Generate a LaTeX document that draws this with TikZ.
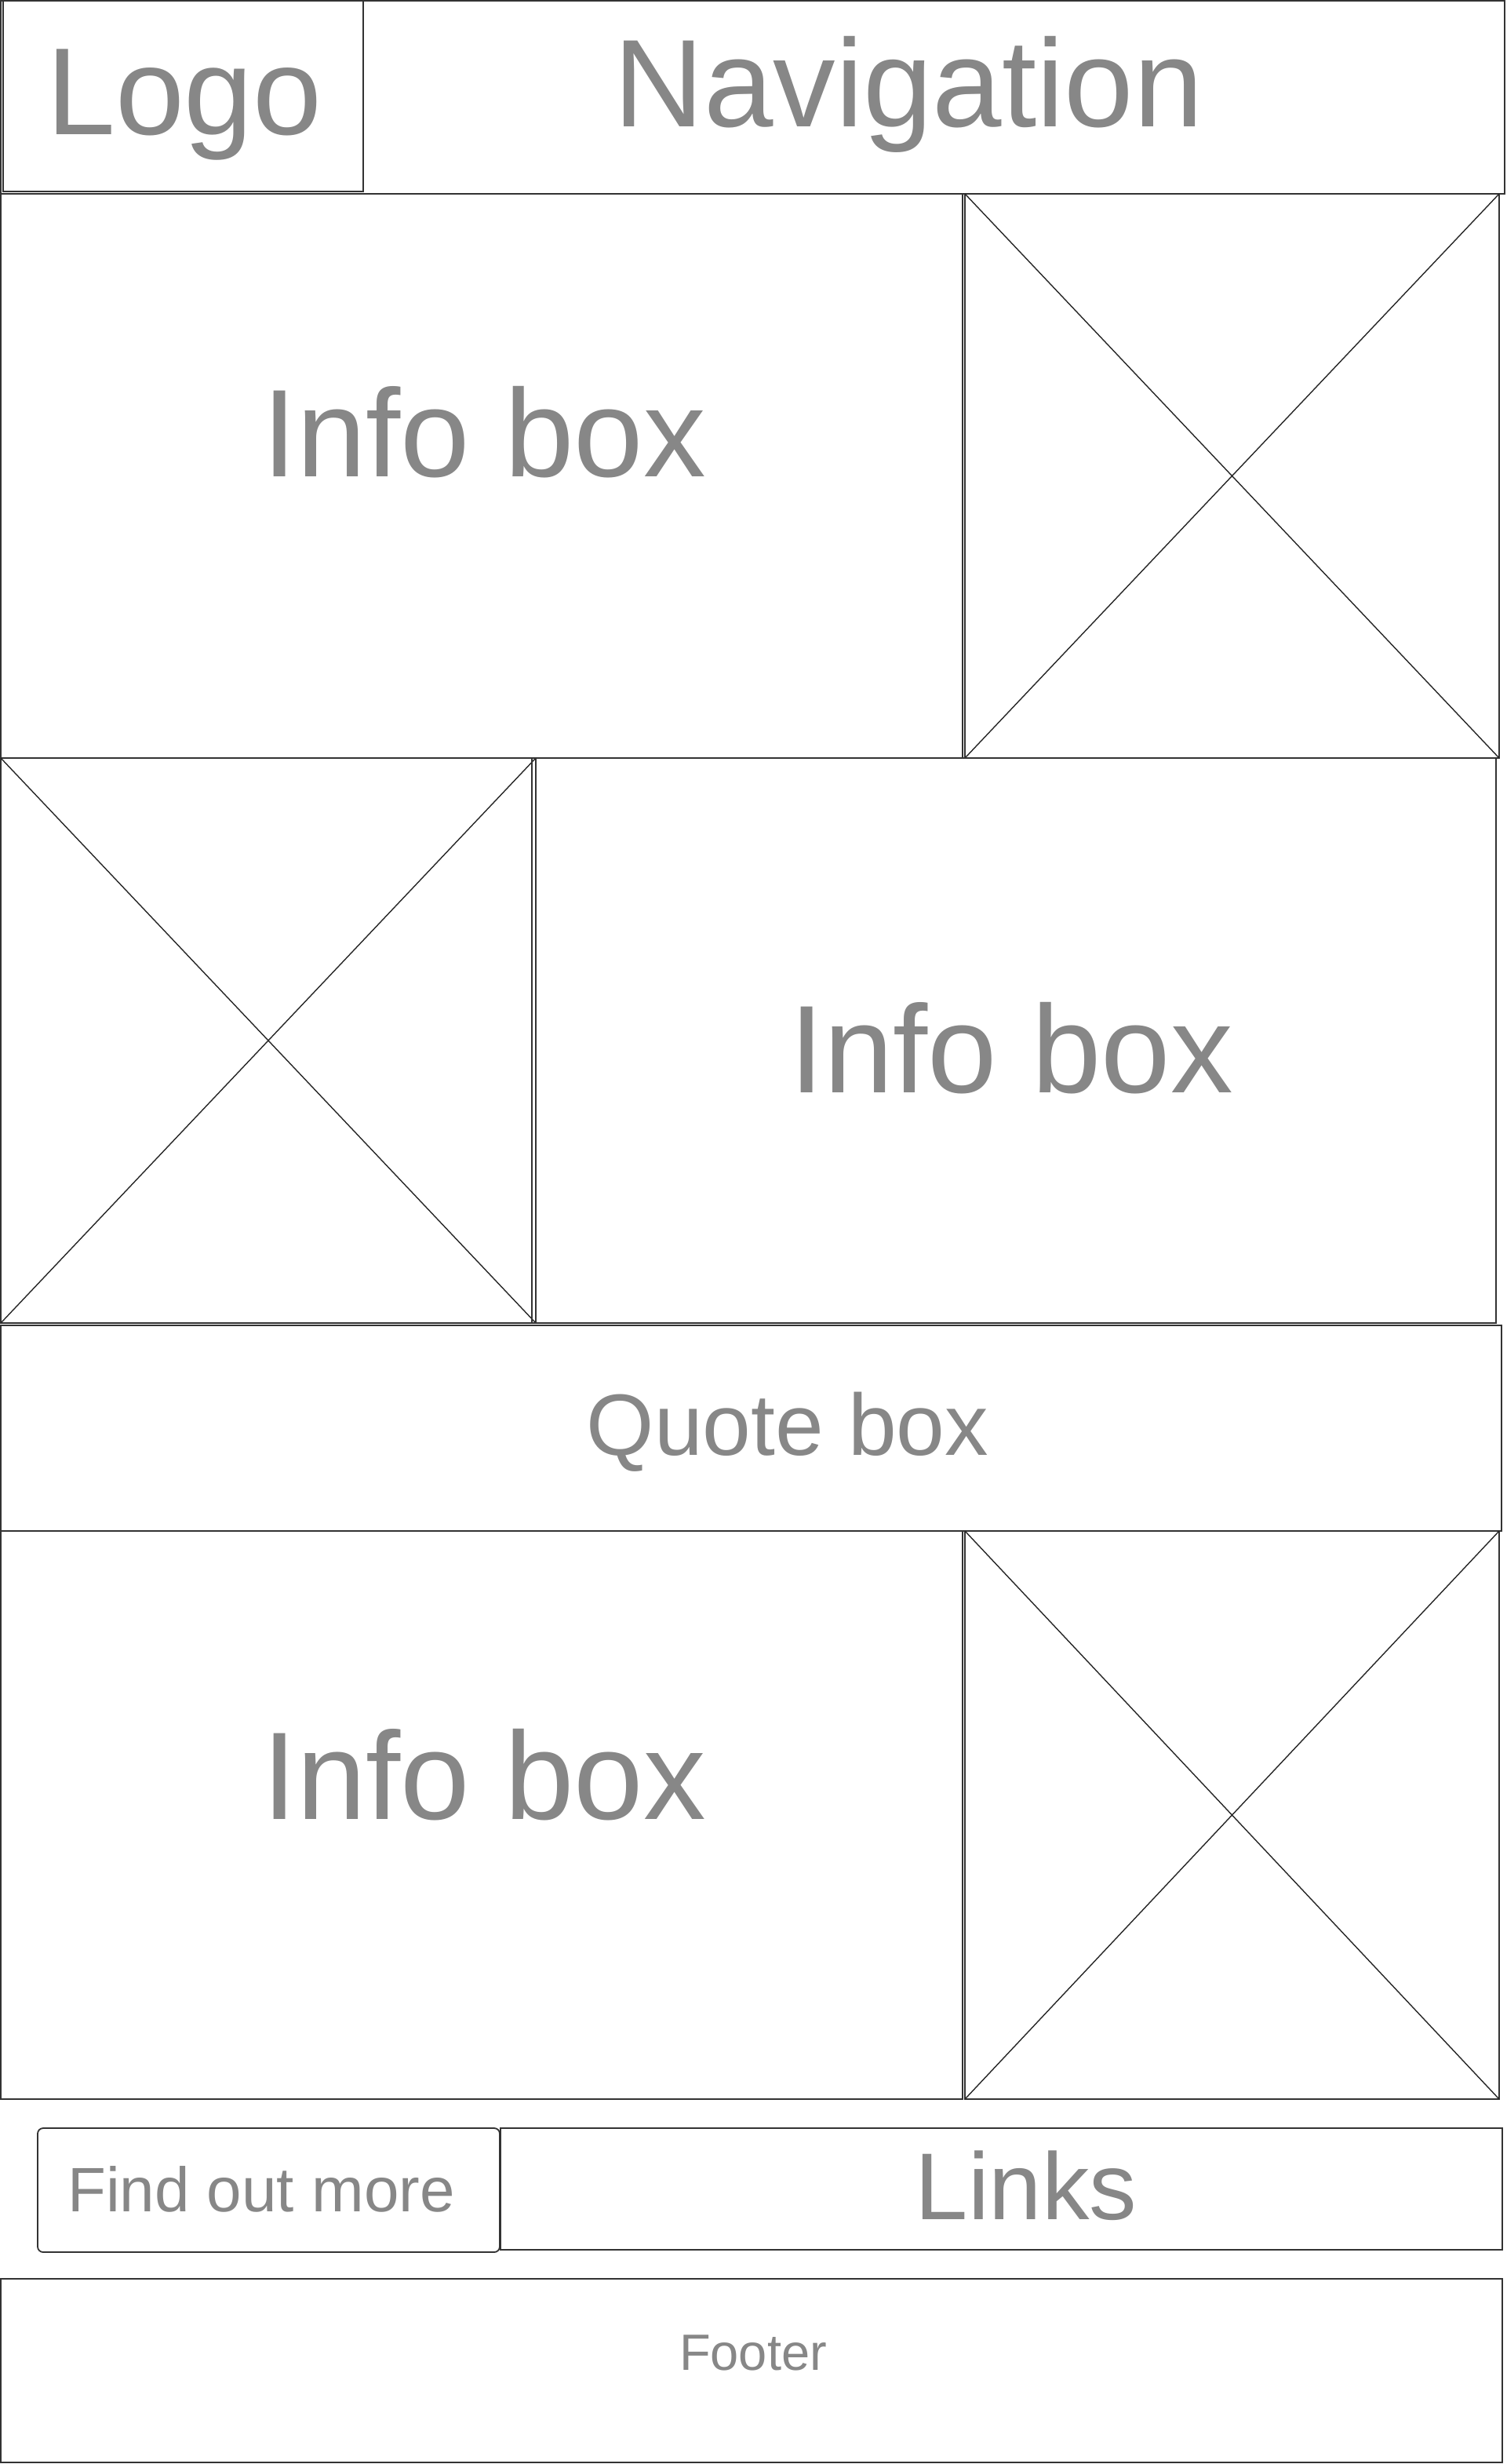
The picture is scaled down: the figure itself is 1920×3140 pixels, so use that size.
\documentclass[tikz,border=0pt]{standalone}
\usepackage{fontspec}
\setmainfont{Liberation Sans}
\definecolor{linegray}{HTML}{333333}
\definecolor{textgray}{HTML}{878787}
\begin{document}
\begin{tikzpicture}[x=1pt, y=-1pt,
    frame/.style={draw=linegray, line width=1.8pt, inner sep=0pt, outer sep=0pt, anchor=north west},
    cross/.style={draw=black!85, line width=1.4pt},
    label/.style={text=textgray, inner sep=0pt, anchor=base}]
                        \useasboundingbox (0,0) rectangle (1920,3140);

                        % Cabecera: logo y navegacion
                        \node[frame, minimum width=1917, minimum height=246] (header) at (1,1) {};
                        \node[frame, minimum width=459, minimum height=243] (logo) at (4,1) {};
                        \node[label, font=\fontsize{158}{158}\selectfont] (logotxt) at (235,171) {Logo};
                        \node[label, font=\fontsize{159}{159}\selectfont] (navtxt) at (1158,161) {Navigation};

                        % Fila 1: info + imagen
                        \node[frame, minimum width=1226, minimum height=719] (info1) at (1,247) {};
                        \node[frame, minimum width=681, minimum height=719] (img1) at (1230,247) {};
                        \draw[cross] (img1.north west) -- (img1.south east) (img1.north east) -- (img1.south west);
                        \node[label, font=\fontsize{159}{159}\selectfont] (info1txt) at (617,607) {Info box};

                        % Fila 2: imagen + info
                        \node[frame, minimum width=682, minimum height=720] (img2) at (1,966) {};
                        \draw[cross] (img2.north west) -- (img2.south east) (img2.north east) -- (img2.south west);
                        \node[frame, minimum width=1229, minimum height=720] (info2) at (678,966) {};
                        \node[label, font=\fontsize{159}{159}\selectfont] (info2txt) at (1289,1392) {Info box};

                        % Cita
                        \node[frame, minimum width=1913, minimum height=262] (quote) at (1,1689) {};
                        \node[label, font=\fontsize{111}{111}\selectfont] (quotetxt) at (1004,1854) {Quote box};

                        % Fila 3: info + imagen
                        \node[frame, minimum width=1226, minimum height=724] (info3) at (1,1951) {};
                        \node[frame, minimum width=681, minimum height=724] (img3) at (1230,1951) {};
                        \draw[cross] (img3.north west) -- (img3.south east) (img3.north east) -- (img3.south west);
                        \node[label, font=\fontsize{159}{159}\selectfont] (info3txt) at (617,2318) {Info box};

                        % Boton y enlaces
                        \node[frame, rounded corners=7pt, minimum width=589, minimum height=158] (findout) at (48,2712) {};
                        \node[frame, minimum width=1277, minimum height=155] (links) at (638,2712) {};
                        \node[label, font=\fontsize{80}{80}\selectfont] (findtxt) at (333,2818) {Find out more};
                        \node[label, font=\fontsize{121}{121}\selectfont] (linkstxt) at (1308,2828) {Links};

                        % Pie
                        \node[frame, minimum width=1914, minimum height=234] (footer) at (1,2904) {};
                        \node[label, font=\fontsize{65}{65}\selectfont] (footertxt) at (960,3020) {Footer};
                    \end{tikzpicture}
\end{document}
